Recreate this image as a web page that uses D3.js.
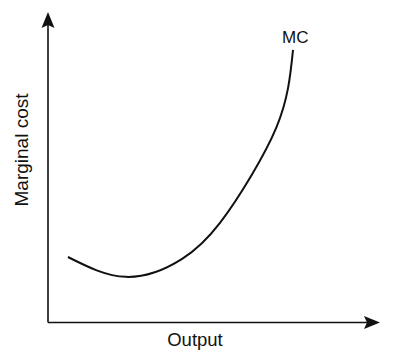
<!DOCTYPE html>
<html>
<head>
<meta charset="utf-8">
<script src="https://cdn.jsdelivr.net/npm/d3@7"></script>
<style>
  body { margin: 0; background: #fff; }
  text { font-family: "Liberation Sans", Arial, sans-serif; fill: #111; }
</style>
</head>
<body>
<script>
/* curve, output vs marginal cost (0-100 units) */
var output = [6.0, 23.5, 40.4, 51.8, 61.4, 68.7, 72.3, 73.8]
var mcost  = [21.1, 14.7, 20.5, 32.1, 47.6, 62.6, 75.5, 87.8]

var curveLabel = "MC"
var xLabel = "Output"
var yLabel = "Marginal cost"

var width = 400, height = 357
var origin = {x: 48, y: 322.5}

var svg = d3.select("body").append("svg")
  .attr("width", width)
  .attr("height", height)

var x = d3.scaleLinear().domain([0, 100]).range([origin.x, 380])
var y = d3.scaleLinear().domain([0, 100]).range([origin.y, 12])

/* axes: plain lines, arrow heads drawn as polygons */
var xAxis = d3.axisBottom(x).tickValues([]).tickSizeOuter(0)
var yAxis = d3.axisLeft(y).tickValues([]).tickSizeOuter(0)

svg.append("g")
  .attr("transform", "translate(0," + origin.y + ")")
  .call(xAxis)
  .select(".domain")
  .attr("stroke", "#111")
  .attr("stroke-width", 1.6)
  .attr("d", "M" + origin.x + ",0H" + (x(100) - 6))

svg.append("g")
  .attr("transform", "translate(" + origin.x + ",0)")
  .call(yAxis)
  .select(".domain")
  .attr("stroke", "#111")
  .attr("stroke-width", 1.6)
  .attr("d", "M0," + origin.y + "V" + (y(100) + 6))

var ax = x(100), ay = y(100)
svg.append("polygon")
  .attr("points", [[ax, origin.y], [ax - 16, origin.y - 6.5], [ax - 13, origin.y], [ax - 16, origin.y + 6.5]].join(" "))
  .attr("fill", "#111")

svg.append("polygon")
  .attr("points", [[origin.x, ay], [origin.x - 6.5, ay + 16], [origin.x, ay + 13], [origin.x + 6.5, ay + 16]].join(" "))
  .attr("fill", "#111")

/* the MC curve */
var pts = output.map(function(d, i) { return [d, mcost[i]] })

var line = d3.line()
  .x(function(d) { return x(d[0]) })
  .y(function(d) { return y(d[1]) })
  .curve(d3.curveNatural)

svg.append("path")
  .datum(pts)
  .attr("d", line)
  .attr("fill", "none")
  .attr("stroke", "#111")
  .attr("stroke-width", 2)

/* labels */
svg.append("text")
  .attr("x", 282)
  .attr("y", 43)
  .attr("font-size", 17)
  .text(curveLabel)

svg.append("text")
  .attr("x", 195)
  .attr("y", 346)
  .attr("text-anchor", "middle")
  .attr("font-size", 18.5)
  .text(xLabel)

svg.append("text")
  .attr("transform", "translate(28,150) rotate(-90)")
  .attr("text-anchor", "middle")
  .attr("font-size", 19)
  .text(yLabel)
</script>
</body>
</html>
